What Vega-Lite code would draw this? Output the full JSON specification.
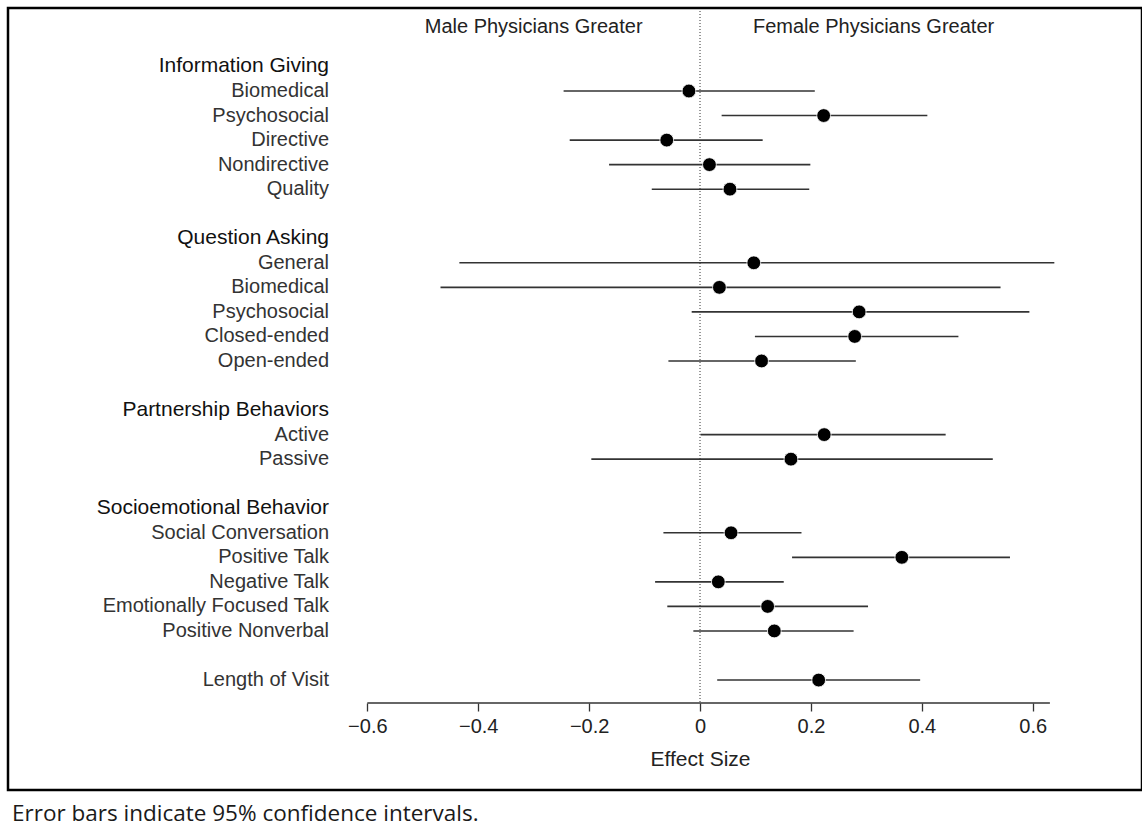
{
  "$schema": "https://vega.github.io/schema/vega-lite/v6.json",
  "width": 1134,
  "height": 782,
  "autosize": "none",
  "padding": {"left": 8, "top": 8, "right": 0, "bottom": 37},
  "background": "white",
  "config": {
    "view": {"stroke": "#000", "strokeWidth": 2.5},
    "font": "Liberation Sans",
    "axisX": {
      "offset": -87,
      "domain": false,
      "grid": false,
      "tickSize": 8,
      "tickColor": "#333",
      "tickWidth": 1.3,
      "labelFont": "Liberation Sans",
      "labelFontSize": 20,
      "labelColor": "#222",
      "labelPadding": 5,
      "titleFont": "Liberation Sans",
      "titleFontSize": 21,
      "titleFontWeight": "normal",
      "titleColor": "#222",
      "titlePadding": 12
    }
  },
  "title": {
    "text": "Error bars indicate 95% confidence intervals.",
    "orient": "bottom",
    "anchor": "start",
    "frame": "group",
    "font": "Open Sans",
    "fontSize": 22.5,
    "fontWeight": "normal",
    "color": "#1a1a1a",
    "offset": 13,
    "dx": 4
  },
  "datasets": {
    "rows": [
      {"row": 0, "label": "Information Giving", "kind": "header"},
      {"row": 1, "label": "Biomedical", "kind": "item", "est": -0.020, "lo": -0.246, "hi": 0.207},
      {"row": 2, "label": "Psychosocial", "kind": "item", "est": 0.223, "lo": 0.039, "hi": 0.410},
      {"row": 3, "label": "Directive", "kind": "item", "est": -0.060, "lo": -0.235, "hi": 0.113},
      {"row": 4, "label": "Nondirective", "kind": "item", "est": 0.017, "lo": -0.164, "hi": 0.199},
      {"row": 5, "label": "Quality", "kind": "item", "est": 0.054, "lo": -0.087, "hi": 0.197},
      {"row": 7, "label": "Question Asking", "kind": "header"},
      {"row": 8, "label": "General", "kind": "item", "est": 0.097, "lo": -0.434, "hi": 0.639},
      {"row": 9, "label": "Biomedical", "kind": "item", "est": 0.035, "lo": -0.468, "hi": 0.542},
      {"row": 10, "label": "Psychosocial", "kind": "item", "est": 0.287, "lo": -0.015, "hi": 0.594},
      {"row": 11, "label": "Closed-ended", "kind": "item", "est": 0.279, "lo": 0.099, "hi": 0.466},
      {"row": 12, "label": "Open-ended", "kind": "item", "est": 0.111, "lo": -0.057, "hi": 0.281},
      {"row": 14, "label": "Partnership Behaviors", "kind": "header"},
      {"row": 15, "label": "Active", "kind": "item", "est": 0.224, "lo": 0.001, "hi": 0.443},
      {"row": 16, "label": "Passive", "kind": "item", "est": 0.164, "lo": -0.196, "hi": 0.528},
      {"row": 18, "label": "Socioemotional Behavior", "kind": "header"},
      {"row": 19, "label": "Social Conversation", "kind": "item", "est": 0.056, "lo": -0.066, "hi": 0.183},
      {"row": 20, "label": "Positive Talk", "kind": "item", "est": 0.364, "lo": 0.166, "hi": 0.559},
      {"row": 21, "label": "Negative Talk", "kind": "item", "est": 0.033, "lo": -0.081, "hi": 0.151},
      {"row": 22, "label": "Emotionally Focused Talk", "kind": "item", "est": 0.122, "lo": -0.059, "hi": 0.303},
      {"row": 23, "label": "Positive Nonverbal", "kind": "item", "est": 0.134, "lo": -0.012, "hi": 0.277},
      {"row": 25, "label": "Length of Visit", "kind": "item", "est": 0.214, "lo": 0.031, "hi": 0.397}
    ],
    "sides": [
      {"label": "Male Physicians Greater", "pos": -0.3},
      {"label": "Female Physicians Greater", "pos": 0.313}
    ],
    "reference": [
      {"effect": 0, "axisStart": -0.6, "axisEnd": 0.631}
    ]
  },
  "layer": [
    {
      "data": {"name": "reference"},
      "mark": {"type": "rule", "color": "#555", "strokeWidth": 1.2, "strokeDash": [1, 2]},
      "encoding": {
        "x": {"field": "effect", "type": "quantitative", "scale": {"domain": [-1.248, 0.7971], "nice": false, "zero": false}, "title": "Effect Size", "axis": {"values": [-0.6, -0.4, -0.2, 0, 0.2, 0.4, 0.6], "format": ".1~f", "titleX": 692}},
        "y": {"datum": -2.26, "type": "quantitative", "scale": {"domain": [-2.382, 29.48], "nice": false, "zero": false, "reverse": true}, "axis": null},
        "y2": {"datum": 25.94}
      }
    },
    {
      "data": {"name": "reference"},
      "mark": {"type": "rule", "color": "#333", "strokeWidth": 1.5},
      "encoding": {
        "x": {"field": "axisStart", "type": "quantitative", "scale": {"domain": [-1.248, 0.7971], "nice": false, "zero": false}, "title": "Effect Size", "axis": {"values": [-0.6, -0.4, -0.2, 0, 0.2, 0.4, 0.6], "format": ".1~f", "titleX": 692}},
        "x2": {"field": "axisEnd"},
        "y": {"datum": 25.94, "type": "quantitative", "scale": {"domain": [-2.382, 29.48], "nice": false, "zero": false, "reverse": true}, "axis": null}
      }
    },
    {
      "data": {"name": "rows"},
      "transform": [{"filter": "isValid(datum.est)"}],
      "mark": {"type": "rule", "color": "#333", "strokeWidth": 1.6},
      "encoding": {
        "x": {"field": "lo", "type": "quantitative", "scale": {"domain": [-1.248, 0.7971], "nice": false, "zero": false}, "title": "Effect Size", "axis": {"values": [-0.6, -0.4, -0.2, 0, 0.2, 0.4, 0.6], "format": ".1~f", "titleX": 692}},
        "x2": {"field": "hi"},
        "y": {"field": "row", "type": "quantitative", "scale": {"domain": [-2.382, 29.48], "nice": false, "zero": false, "reverse": true}, "axis": null}
      }
    },
    {
      "data": {"name": "rows"},
      "transform": [{"filter": "isValid(datum.est)"}],
      "mark": {"type": "point", "shape": "circle", "filled": true, "color": "#000", "size": 190, "opacity": 1, "stroke": "#fff", "strokeWidth": 0.8},
      "encoding": {
        "x": {"field": "est", "type": "quantitative", "scale": {"domain": [-1.248, 0.7971], "nice": false, "zero": false}, "title": "Effect Size", "axis": {"values": [-0.6, -0.4, -0.2, 0, 0.2, 0.4, 0.6], "format": ".1~f", "titleX": 692}},
        "y": {"field": "row", "type": "quantitative", "scale": {"domain": [-2.382, 29.48], "nice": false, "zero": false, "reverse": true}, "axis": null}
      }
    },
    {
      "data": {"name": "rows"},
      "mark": {"type": "text", "align": "right", "baseline": "middle", "font": "Liberation Sans"},
      "encoding": {
        "x": {"datum": -0.669, "type": "quantitative", "scale": {"domain": [-1.248, 0.7971], "nice": false, "zero": false}, "title": "Effect Size", "axis": {"values": [-0.6, -0.4, -0.2, 0, 0.2, 0.4, 0.6], "format": ".1~f", "titleX": 692}},
        "y": {"field": "row", "type": "quantitative", "scale": {"domain": [-2.382, 29.48], "nice": false, "zero": false, "reverse": true}, "axis": null},
        "text": {"field": "label"},
        "color": {"field": "kind", "type": "nominal", "scale": {"domain": ["header", "item"], "range": ["#111111", "#333333"]}, "legend": null},
        "size": {"field": "kind", "type": "nominal", "scale": {"domain": ["header", "item"], "range": [21, 20]}, "legend": null}
      }
    },
    {
      "data": {"name": "sides"},
      "mark": {"type": "text", "align": "center", "baseline": "middle", "font": "Liberation Sans", "fontSize": 20, "color": "#222"},
      "encoding": {
        "x": {"field": "pos", "type": "quantitative", "scale": {"domain": [-1.248, 0.7971], "nice": false, "zero": false}, "title": "Effect Size", "axis": {"values": [-0.6, -0.4, -0.2, 0, 0.2, 0.4, 0.6], "format": ".1~f", "titleX": 692}},
        "y": {"datum": -1.607, "type": "quantitative", "scale": {"domain": [-2.382, 29.48], "nice": false, "zero": false, "reverse": true}, "axis": null},
        "text": {"field": "label"}
      }
    }
  ]
}
